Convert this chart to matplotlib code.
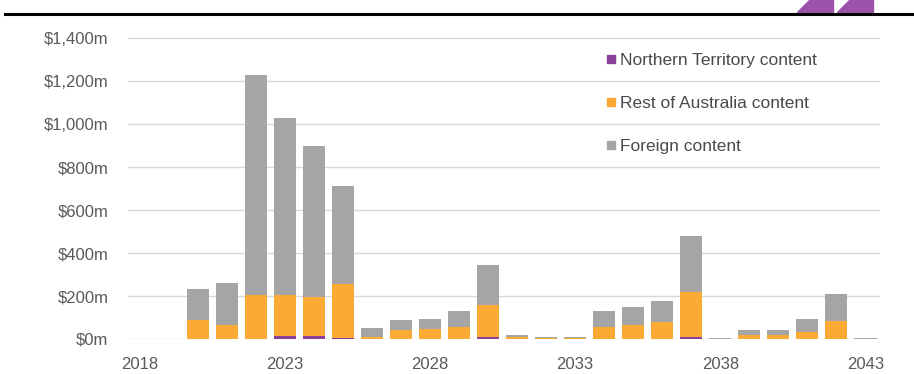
import matplotlib
matplotlib.use("Agg")
import matplotlib.pyplot as plt
from matplotlib.patches import Polygon
from matplotlib.lines import Line2D
from matplotlib.ticker import FuncFormatter, MultipleLocator

plt.rcParams["font.family"] = ["Liberation Sans", "DejaVu Sans"]

# --- data ($m) -----------------------------------------------------------
years = list(range(2018, 2044))
total = [0, 0, 231, 262, 1228, 1026, 898, 712, 51, 88, 94, 132, 344, 19,
         8, 8, 132, 147, 178, 479, 5, 42, 42, 94, 209, 5]
nt_content = [0, 0, 0, 0, 2, 12, 12, 6, 0, 0, 0, 0, 8, 0,
              0, 0, 0, 0, 0, 8, 0, 0, 0, 0, 0, 0]
rest_aus = [0, 0, 88, 65, 203, 193, 185, 250, 8, 42, 45, 57, 150, 8,
            3, 3, 57, 65, 81, 212, 2, 19, 19, 34, 85, 2]
foreign = [t - n - r for t, n, r in zip(total, nt_content, rest_aus)]

series_labels = ["Northern Territory content", "Rest of Australia content", "Foreign content"]
PURPLE = "#8a3f98"
ORANGE = "#fbaa33"
GREY = "#a5a5a5"
TEXT = "#595959"
GRID = "#d9d9d9"
FS = 12

fig = plt.figure(figsize=(9.14, 3.74), dpi=100)
ax = fig.add_axes([128 / 914, 35 / 374, 752 / 914, 304 / 374])

w = 0.76
ax.bar(years, nt_content, width=w, color=PURPLE, label=series_labels[0], zorder=2)
ax.bar(years, rest_aus, width=w, bottom=nt_content, color=ORANGE,
       label=series_labels[1], zorder=2)
bottom2 = [n + r for n, r in zip(nt_content, rest_aus)]
ax.bar(years, foreign, width=w, bottom=bottom2, color=GREY,
       label=series_labels[2], zorder=2)

ax.set_xlim(2017.6, 2043.5)
ax.set_ylim(0, 1414)
ax.yaxis.set_major_locator(MultipleLocator(200))
ax.yaxis.set_major_formatter(FuncFormatter(lambda v, p: f"${v:,.0f}m"))
ax.set_xticks([2018, 2023, 2028, 2033, 2038, 2043])
ax.grid(axis="y", color=GRID, linewidth=1.0, zorder=0)
for s in ax.spines.values():
    s.set_visible(False)
ax.tick_params(axis="both", length=0, colors=TEXT, labelsize=FS)
ax.tick_params(axis="y", pad=14)
ax.tick_params(axis="x", pad=13)

handles = [Line2D([], [], marker="s", linestyle="", markersize=6, color=c)
           for c in (PURPLE, ORANGE, GREY)]
leg = ax.legend(handles, series_labels, loc="upper left",
                bbox_to_anchor=(0.612, 0.993), frameon=False, fontsize=12.5,
                labelspacing=1.62, handletextpad=0.15, handlelength=0.8,
                labelcolor="#4a4a4a")

# header rule and logo
fig.add_artist(Line2D([5 / 914, 1.0], [1 - 14 / 374, 1 - 14 / 374],
                      color="black", linewidth=2.2))
for x0 in (797, 837):
    pts = [(x0, 12), (x0 + 36, 12), (x0 + 36, 0), (x0 + 12, 0)]
    fig.add_artist(Polygon([(x / 914, 1 - y / 374) for x, y in pts],
                           closed=True, color="#9b52a8", transform=fig.transFigure))

fig.savefig("out.png", dpi=100)
